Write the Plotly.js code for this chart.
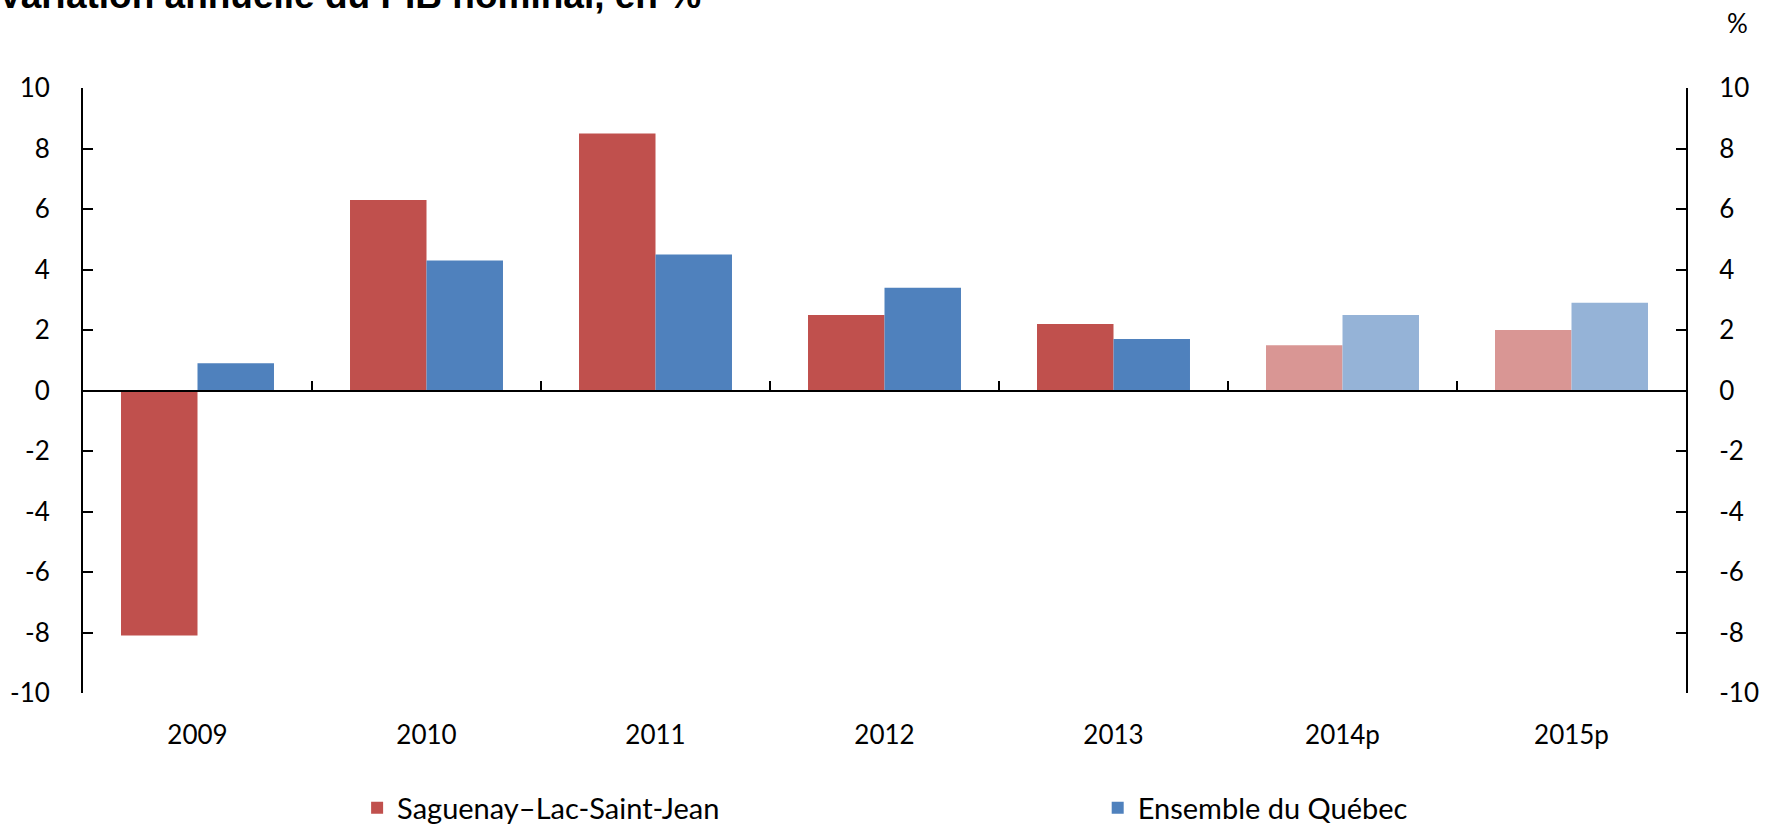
<!DOCTYPE html>
<html>
<head>
<meta charset="utf-8">
<script src="https://cdn.plot.ly/plotly-3.0.1.min.js"></script>
<style>
html,body{margin:0;padding:0;background:#fff;}
#chart{width:1772px;height:825px;}
</style>
</head>
<body>
<div id="chart"></div>
<script>
// Data
var categories = ['2009', '2010', '2011', '2012', '2013', '2014p', '2015p'];
var saguenay = [-8.1, 6.3, 8.5, 2.5, 2.2, 1.5, 2.0];
var quebec = [0.9, 4.3, 4.5, 3.4, 1.7, 2.5, 2.9];
var seriesNames = ['Saguenay\u2013Lac-Saint-Jean', 'Ensemble du Québec'];
var yTicks = [-10, -8, -6, -4, -2, 0, 2, 4, 6, 8, 10];
var titleText = 'Variation annuelle du PIB nominal, en %';
var unitText = '%';

// Styles
var redMain = '#C0504D', redLight = '#D99694';
var blueMain = '#4F81BD', blueLight = '#95B3D7';
function isProjected(c) { return /p$/.test(c); }
var redColors = categories.map(function (c) { return isProjected(c) ? redLight : redMain; });
var blueColors = categories.map(function (c) { return isProjected(c) ? blueLight : blueMain; });

var font = 'Lato, "Open Sans", sans-serif';

var traces = [
  {
    type: 'bar', name: seriesNames[0], x: categories, y: saguenay,
    xaxis: 'x', yaxis: 'y', legend: 'legend',
    marker: {color: redColors, line: {width: 0}},
    hoverinfo: 'x+y'
  },
  {
    type: 'bar', name: seriesNames[1], x: categories, y: quebec,
    xaxis: 'x', yaxis: 'y', legend: 'legend2',
    marker: {color: blueColors, line: {width: 0}},
    hoverinfo: 'x+y'
  },
  {
    type: 'scatter', mode: 'markers', x: categories,
    y: categories.map(function () { return null; }),
    xaxis: 'x2', yaxis: 'y2', showlegend: false, hoverinfo: 'skip'
  }
];

var legendBase = {
  orientation: 'h', xanchor: 'left', y: -0.19, yanchor: 'middle',
  font: {family: font, size: 29, color: '#000'},
  bgcolor: 'rgba(0,0,0,0)', borderwidth: 0
};

var layout = {
  width: 1772, height: 825,
  margin: {l: 83, r: 86, t: 88, b: 132, autoexpand: false},
  paper_bgcolor: '#fff', plot_bgcolor: 'rgba(0,0,0,0)',
  barmode: 'group', bargap: 0.332, bargroupgap: 0,
  font: {family: font, size: 26, color: '#000'},
  showlegend: true,
  legend: Object.assign({}, legendBase, {x: 0.171}),
  legend2: Object.assign({}, legendBase, {x: 0.633}),
  xaxis: {
    type: 'category', anchor: 'free', position: 0.5, side: 'bottom',
    showline: true, linecolor: '#000', linewidth: 2,
    ticks: 'inside', tickson: 'boundaries', ticklen: 9, tickwidth: 2, tickcolor: '#000',
    showticklabels: false, showgrid: false, zeroline: false, fixedrange: true
  },
  xaxis2: {
    type: 'category', overlaying: 'x', matches: 'x', anchor: 'y', side: 'bottom',
    showline: false, ticks: '', showgrid: false, zeroline: false,
    tickfont: {family: font, size: 26, color: '#000'}, ticklabelstandoff: 24
  },
  yaxis: {
    range: [-10, 10], tickvals: yTicks, ticktext: yTicks.map(String),
    showline: true, linecolor: '#000', linewidth: 2,
    ticks: 'inside', ticklen: 10, tickwidth: 2, tickcolor: '#000',
    showgrid: false, zeroline: false,
    tickfont: {family: font, size: 26, color: '#000'}, ticklabelstandoff: 26
  },
  yaxis2: {
    type: 'linear', overlaying: 'y', side: 'right', anchor: 'x',
    range: [-10, 10], tickvals: yTicks, ticktext: yTicks.map(String),
    showline: true, linecolor: '#000', linewidth: 2,
    ticks: 'inside', ticklen: 10, tickwidth: 2, tickcolor: '#000',
    showgrid: false, zeroline: false,
    tickfont: {family: font, size: 26, color: '#000'}, ticklabelstandoff: 26
  },
  annotations: [
    {
      text: '<b>' + titleText + '</b>', xref: 'paper', yref: 'paper',
      x: -0.054, y: 1.115, xanchor: 'left', yanchor: 'bottom', showarrow: false,
      font: {family: '"Liberation Sans", Arial, sans-serif', size: 37, color: '#000'}
    },
    {
      text: unitText, xref: 'paper', yref: 'paper',
      x: 1.032, y: 1.107, xanchor: 'center', yanchor: 'middle', showarrow: false,
      font: {family: font, size: 26, color: '#000'}
    }
  ]
};

Plotly.newPlot('chart', traces, layout, {displayModeBar: false, staticPlot: true});
</script>
</body>
</html>
